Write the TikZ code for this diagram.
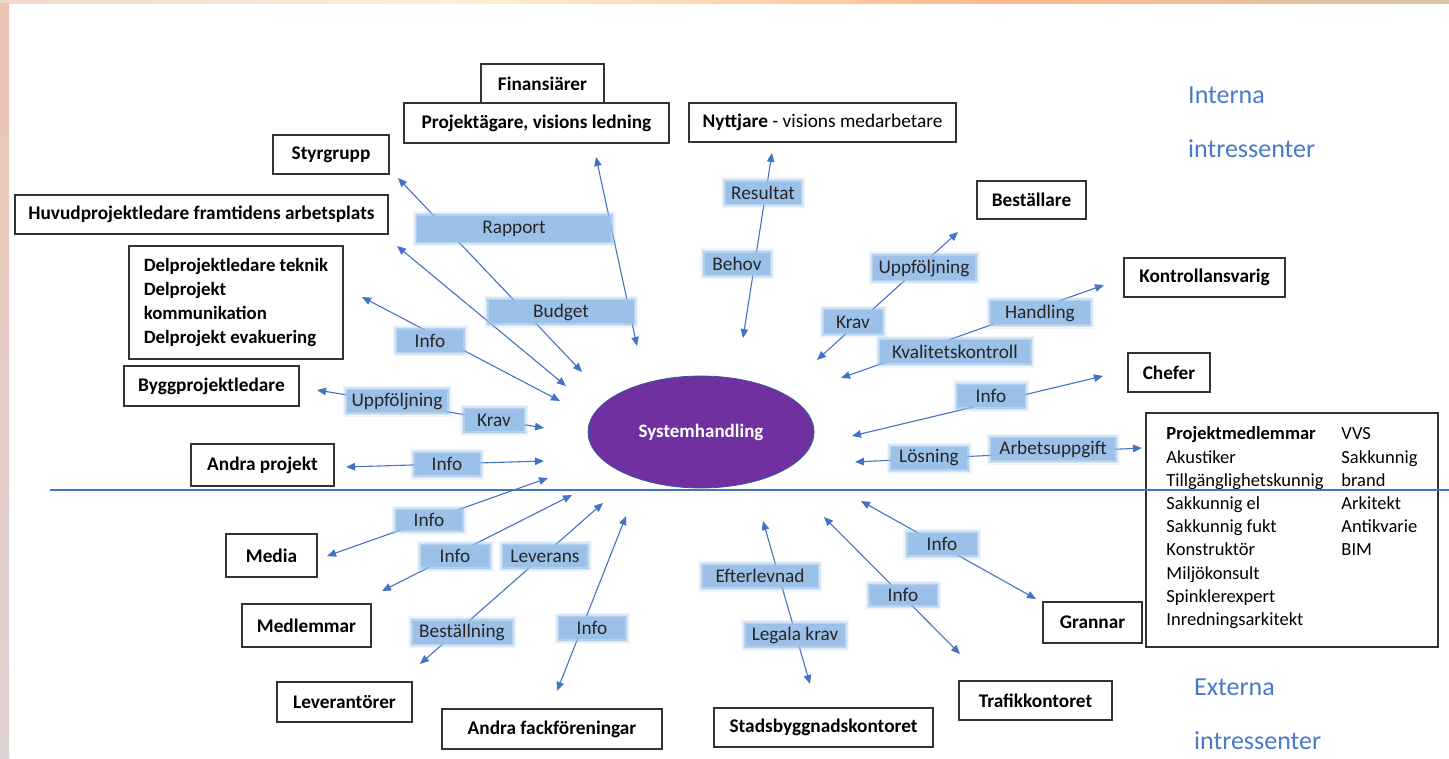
\documentclass[tikz,border=0pt]{standalone}
\usepackage{fontspec}
\setmainfont{Carlito}
\usetikzlibrary{shapes.geometric,arrows.meta}
\definecolor{lineblue}{RGB}{68,114,196}
\definecolor{tagblue}{RGB}{156,193,232}
\definecolor{sysviolet}{RGB}{112,48,160}
\definecolor{headblue}{RGB}{72,122,200}

\begin{document}
\begin{tikzpicture}[x=1pt, y=-1pt,
  box/.style={draw=black!80, line width=1.1pt, inner sep=0pt, font=\fontsize{19.3}{23}\selectfont\bfseries},
  tag/.style={fill=tagblue, inner sep=0pt, minimum height=22pt, font=\fontsize{19.3}{22}\selectfont, text=black!85,
    preaction={draw=tagblue, line width=9pt, draw opacity=0.15},
    preaction={draw=tagblue, line width=6pt, draw opacity=0.3},
    preaction={draw=tagblue, line width=3pt, draw opacity=0.55}},
  link/.style={lineblue, line width=1.1pt, <->, >={Triangle[length=9pt, width=7.5pt]}},
  head/.style={text=headblue, inner sep=0pt, anchor=west, font=\fontsize{26}{30}\selectfont}]

\useasboundingbox (0,0) rectangle (1449,759);
\fill[white] (0,0) rectangle (1449,759);
\shade[left color={rgb,255:red,240;green,215;blue,205}, right color={rgb,255:red,253;green,240;blue,215}] (0,0) rectangle (450,4);
\shade[left color={rgb,255:red,253;green,240;blue,215}, right color={rgb,255:red,255;green,185;blue,140}] (450,0) rectangle (1000,4);
\shade[left color={rgb,255:red,255;green,185;blue,140}, right color={rgb,255:red,215;green,195;blue,170}] (1000,0) rectangle (1449,4);
\shade[top color={rgb,255:red,236;green,196;blue,180}, bottom color={rgb,255:red,222;green,210;blue,210}] (0,4) rectangle (9,759);

\node[box, minimum width=123pt, minimum height=39pt] (fin) at (542.5,83.5) {Finansiärer};
\node[box, minimum width=265pt, minimum height=40pt] (proj) at (536.5,123) {Projektägare, visions ledning};
\node[box, minimum width=267pt, minimum height=39pt] (nytt) at (822.5,122.5) {Nyttjare \textmd{- visions medarbetare}};
\node[box, minimum width=116pt, minimum height=39pt] (styr) at (331,154.5) {Styrgrupp};
\node[box, minimum width=373pt, minimum height=39pt] (huvud) at (201.5,214.5) {Huvudprojektledare framtidens arbetsplats};
\node[box, minimum width=214pt, minimum height=113pt, align=left, font=\fontsize{18.8}{24}\selectfont\bfseries] (del) at (236,302.5) {Delprojektledare teknik\\Delprojekt\\kommunikation\\Delprojekt evakuering};
\node[box, minimum width=175pt, minimum height=40pt] (bygg) at (211.5,386) {Byggprojektledare};
\node[box, minimum width=143pt, minimum height=42pt] (andra) at (262.5,465) {Andra projekt};
\node[box, minimum width=91pt, minimum height=43pt] (media) at (271.5,555.5) {Media};
\node[box, minimum width=129pt, minimum height=43pt] (medl) at (306.5,625.5) {Medlemmar};
\node[box, minimum width=135pt, minimum height=40pt] (lev) at (344.5,702) {Leverantörer};
\node[box, minimum width=220pt, minimum height=40pt] (fack) at (552,729) {Andra fackföreningar};
\node[box, minimum width=219pt, minimum height=39pt] (stads) at (823.5,727.5) {Stadsbyggnadskontoret};
\node[box, minimum width=153pt, minimum height=39pt] (trafik) at (1035.5,700.5) {Trafikkontoret};
\node[box, minimum width=99pt, minimum height=41pt] (grannar) at (1092.5,622.5) {Grannar};
\node[box, minimum width=109pt, minimum height=38pt] (best) at (1031.5,200) {Beställare};
\node[box, minimum width=161pt, minimum height=39pt] (kontroll) at (1204.5,277.5) {Kontrollansvarig};
\node[box, minimum width=82pt, minimum height=39pt] (chefer) at (1169,372.5) {Chefer};
\node[box, minimum width=292pt, minimum height=234pt, font=\fontsize{18.5}{23.2}\selectfont] (pm) at (1292,530) {%
  \begin{tabular}{@{}p{175pt}@{}l@{}}
  \textbf{Projektmedlemmar} & VVS\\
  Akustiker & Sakkunnig\\
  Tillgänglighetskunnig & brand\\
  Sakkunnig el & Arkitekt\\
  Sakkunnig fukt & Antikvarie\\
  Konstruktör & BIM\\
  Miljökonsult & \\
  Spinklerexpert & \\
  Inredningsarkitekt & \\[4pt]
  \end{tabular}};

\node[ellipse, fill=sysviolet, draw=lineblue!80!black, line width=0.8pt, minimum width=226pt, minimum height=112pt, text=white, font=\fontsize{19}{22}\selectfont\bfseries] (sys) at (701,432) {Systemhandling};

\node[head] (int1) at (1188,95) {Interna};
\node[head] (int2) at (1188,149) {intressenter};
\node[head] (ext1) at (1194,687) {Externa};
\node[head] (ext2) at (1194,741) {intressenter};

\coordinate (div-l) at (50,490);
\coordinate (div-r) at (1449,490);
\draw[lineblue, line width=1.2pt] (div-l) -- (div-r);

\coordinate (styr-e) at (398,178);   \coordinate (styr-s) at (582,372);
\coordinate (huvud-e) at (397,246);  \coordinate (huvud-s) at (566,386);
\coordinate (del-e) at (362,297);    \coordinate (del-s) at (560,401);
\coordinate (bygg-e) at (317,390);   \coordinate (bygg-s) at (544,428);
\coordinate (andra-e) at (346,467);  \coordinate (andra-s) at (544,461);
\coordinate (media-e) at (327,556);  \coordinate (media-s) at (548,478);
\coordinate (medl-e) at (382,591);   \coordinate (medl-s) at (572,495);
\coordinate (lev-e) at (420,664);    \coordinate (lev-s) at (603,503);
\coordinate (fack-e) at (557,691);   \coordinate (fack-s) at (626,516);
\coordinate (stads-e) at (810,684);  \coordinate (stads-s) at (763,521);
\coordinate (trafik-e) at (960,654); \coordinate (trafik-s) at (824,517);
\coordinate (grannar-e) at (1036,599); \coordinate (grannar-s) at (861,501);
\coordinate (pm-e) at (1142,448);    \coordinate (pm-s) at (855,462);
\coordinate (chefer-e) at (1103,376); \coordinate (chefer-s) at (852,436);
\coordinate (kontroll-e) at (1104,285); \coordinate (kontroll-s) at (841,378);
\coordinate (best-e) at (958,232);   \coordinate (best-s) at (817,360);
\coordinate (nytt-e) at (772,153);   \coordinate (nytt-s) at (743,338);
\coordinate (proj-e) at (596,157);   \coordinate (proj-s) at (637,346);

\draw[link] (styr-e) -- (styr-s);
\draw[link] (huvud-e) -- (huvud-s);
\draw[link] (del-e) -- (del-s);
\draw[link] (bygg-e) -- (bygg-s);
\draw[link] (andra-e) -- (andra-s);
\draw[link] (media-e) -- (media-s);
\draw[link] (medl-e) -- (medl-s);
\draw[link] (lev-e) -- (lev-s);
\draw[link] (fack-e) -- (fack-s);
\draw[link] (stads-e) -- (stads-s);
\draw[link] (trafik-e) -- (trafik-s);
\draw[link] (grannar-e) -- (grannar-s);
\draw[link] (pm-e) -- (pm-s);
\draw[link] (chefer-e) -- (chefer-s);
\draw[link] (kontroll-e) -- (kontroll-s);
\draw[link] (best-e) -- (best-s);
\draw[link] (nytt-e) -- (nytt-s);
\draw[link] (proj-e) -- (proj-s);

\node[tag, minimum width=194pt, minimum height=26pt] (t-rapport) at (514,229) {Rapport};
\node[tag, minimum width=145pt, minimum height=23pt] (t-budget) at (561,312) {Budget};
\node[tag, minimum width=66pt] (t-del) at (430,341) {Info};
\node[tag, minimum width=100pt] (t-bygg1) at (397,401) {Uppföljning};
\node[tag, minimum width=59pt] (t-bygg2) at (494,420) {Krav};
\node[tag, minimum width=65pt] (t-andra) at (447,464) {Info};
\node[tag, minimum width=75pt] (t-nytt1) at (763,193) {Resultat};
\node[tag, minimum width=65pt] (t-nytt2) at (737,264) {Behov};
\node[tag, minimum width=102pt, minimum height=24pt] (t-best1) at (924,268) {Uppföljning};
\node[tag, minimum width=58pt, minimum height=23pt] (t-best2) at (853,322) {Krav};
\node[tag, minimum width=99pt, minimum height=23pt] (t-kontroll1) at (1040,313) {Handling};
\node[tag, minimum width=150pt, minimum height=23pt] (t-kontroll2) at (955,352) {Kvalitetskontroll};
\node[tag, minimum width=67pt] (t-chefer) at (991,396) {Info};
\node[tag, minimum width=76pt] (t-pm1) at (929,458) {Lösning};
\node[tag, minimum width=124pt] (t-pm2) at (1053,449) {Arbetsuppgift};
\node[tag, minimum width=66pt, minimum height=20pt] (t-media) at (429,520) {Info};
\node[tag, minimum width=68pt] (t-medl) at (455,556) {Info};
\node[tag, minimum width=84pt] (t-lev1) at (545,556) {Leverans};
\node[tag, minimum width=99pt, minimum height=23pt] (t-lev2) at (462,632) {Beställning};
\node[tag, minimum width=66pt] (t-fack) at (592,628) {Info};
\node[tag, minimum width=115pt] (t-stads1) at (760,576) {Efterlevnad};
\node[tag, minimum width=99pt] (t-stads2) at (795,635) {Legala krav};
\node[tag, minimum width=67pt, minimum height=20pt] (t-trafik) at (903,595) {Info};
\node[tag, minimum width=69pt] (t-grannar) at (942,544) {Info};

\end{tikzpicture}
\end{document}
